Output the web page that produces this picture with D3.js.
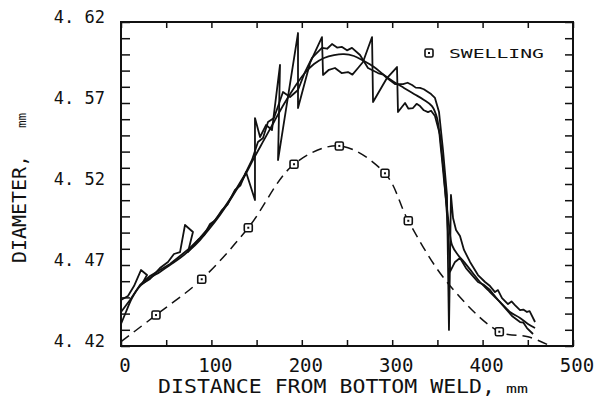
<!DOCTYPE html>
<html>
<head>
<meta charset="utf-8">
<script src="https://d3js.org/d3.v7.min.js"></script>
<style>
    body { margin: 0; background: #fff; }
    text { font-family: "DejaVu Sans Mono", monospace; fill: #111; }
</style>
</head>
<body>
<svg id="chart" width="598" height="398"></svg>
<script>
// distance from bottom weld (mm), diameter (mm) - three traces plus swelling curve
const traceA = [
    [0, 4.4484], [7.7, 4.4509], [14.4, 4.457], [22.1, 4.4669], [28.8, 4.4638], [23.2, 4.4583],
    [32.1, 4.4614], [43.1, 4.4681], [52, 4.4719], [58.6, 4.4768], [65.3, 4.478], [70.8, 4.4947],
    [79.6, 4.4904], [74.1, 4.478], [85.2, 4.4854], [92, 4.4885], [98.5, 4.4953], [104, 4.4975],
    [111.7, 4.5039], [118, 4.5075], [126.1, 4.5163], [132, 4.519], [138.3, 4.5274], [148.2, 4.5101],
    [148.2, 4.5607], [153.8, 4.549], [160.4, 4.5564], [167, 4.5533],
    [175.9, 4.5935], [173.7, 4.5348], [195.8, 4.6132], [195.8, 4.5669], [209.1, 4.5947], [222.3, 4.6107],
    [223.5, 4.5873], [230, 4.5905], [236.7, 4.5916], [244, 4.5885], [251.1, 4.5891], [256, 4.5875],
    [262.2, 4.5916], [267.7, 4.5953], [277.7, 4.6107],
    [278.8, 4.5706], [294.2, 4.5854], [305.3, 4.5922], [306.4, 4.5644], [314.2, 4.57], [318, 4.5665],
    [323, 4.5669], [327, 4.5695], [330.8, 4.5681], [335, 4.5655], [339.6, 4.5644], [343, 4.5652],
    [347.3, 4.562], [352.9, 4.5502], [357.3, 4.5256], [360.6, 4.5009],
    [362.8, 4.4793], [363.9, 4.4657], [369.5, 4.4719], [375, 4.4743], [381.6, 4.4681], [388.3, 4.4638],
    [394.9, 4.4595], [401.5, 4.4577], [408.2, 4.4546], [417, 4.4484], [424.8, 4.4435], [432.5, 4.4385],
    [441.4, 4.4348], [445, 4.4345], [449.1, 4.4311], [455.8, 4.4274]
];
const traceB = [
    [0, 4.441], [10, 4.4484], [21, 4.4577], [32.1, 4.4632], [43.1, 4.4669], [54.2, 4.4706],
    [65.3, 4.4756], [76.3, 4.4805], [87.4, 4.4867], [98.5, 4.4941], [109.5, 4.5015], [122.8, 4.5126],
    [136.1, 4.5249], [144.9, 4.5348], [151.5, 4.5459], [157.1, 4.5484], [162.6, 4.5583], [169.2, 4.5607],
    [179.2, 4.5768], [187, 4.5737], [195.8, 4.578], [203.5, 4.5891], [211.3, 4.5978], [222.3, 4.604],
    [228, 4.6035], [233.4, 4.6064], [239, 4.6042], [244.5, 4.6046], [250, 4.6025], [255.5, 4.604],
    [264.4, 4.5996], [273.2, 4.5916], [284.3, 4.5885], [290, 4.5875],
    [294.2, 4.5854], [303.1, 4.5817], [312, 4.5817], [317, 4.5825], [322, 4.5811], [326, 4.5795],
    [330.8, 4.5793], [335, 4.5785], [339.6, 4.5768], [343, 4.5755],
    [347.3, 4.5731], [351.8, 4.5644], [356.2, 4.541], [360.6, 4.5132], [362.8, 4.4299], [365, 4.5132],
    [367.3, 4.499], [370.6, 4.4916], [375, 4.4879], [379.4, 4.4793], [386.1, 4.4719], [394.9, 4.4638],
    [402.7, 4.4595], [408.2, 4.457], [413.7, 4.4533], [417, 4.4545], [421.5, 4.4496], [428.1, 4.4459],
    [432, 4.4475], [435.8, 4.4453], [441.4, 4.4422], [445, 4.4425], [449.1, 4.441], [452, 4.4415], [458, 4.4348]
];
const traceC = [
    [0, 4.4336], [5.5, 4.441], [12.2, 4.4496], [21, 4.457], [32.1, 4.462], [43.1, 4.4657],
    [54.2, 4.47], [65.3, 4.4743], [76.3, 4.4793], [87.4, 4.4854], [98.5, 4.4928], [109.5, 4.5009],
    [122.8, 4.512], [136.1, 4.5243], [147.1, 4.536], [158.2, 4.5472], [169.2, 4.5583], [180.3, 4.5694],
    [191.4, 4.5793], [202.4, 4.5879], [213.5, 4.5941], [224.6, 4.5978], [235.6, 4.5996], [246.7, 4.6002],
    [257.7, 4.599], [268.8, 4.5959], [279.9, 4.5922], [290.9, 4.5873], [302, 4.583], [313, 4.5793],
    [324.1, 4.5756], [335.2, 4.5719], [344, 4.5681], [349.6, 4.5607], [354, 4.541], [358.4, 4.5163],
    [362.8, 4.4947], [366.2, 4.4823], [372.8, 4.4762], [379.4, 4.4719], [388.3, 4.4657], [397.1, 4.4595],
    [408.2, 4.4533], [419.2, 4.4472], [430.3, 4.441], [441.4, 4.4373], [450.2, 4.4336], [458, 4.4311]
];
const swellCurve = [
    [0, 4.4227], [38.7, 4.4391], [89.3, 4.4612], [140.8, 4.493], [191.4, 4.5322], [241.5, 4.5435],
    [292, 4.5266], [317.8, 4.4973], [360.3, 4.4597], [418.5, 4.4288], [450.2, 4.4257], [474.6, 4.4202]
];
const swellPoints = [
    [38.7, 4.4391], [89.3, 4.4612], [140.8, 4.493], [191.4, 4.5322], [241.5, 4.5435],
    [292, 4.5266], [317.8, 4.4973], [418.5, 4.4288]
];
const xTickLabels = [0, 100, 200, 300, 400, 500];
const yTickValues = [4.42, 4.47, 4.52, 4.57, 4.62];
const yTickLabels = ["4. 42", "4. 47", "4. 52", "4. 57", "4. 62"];

const svg = d3.select("#chart");
const plot = {left: 121, right: 573, top: 22, bottom: 346};

const x = d3.scaleLinear().domain([0, 500]).range([plot.left, plot.right]);
const y = d3.scaleLinear().domain([4.42, 4.62]).range([plot.bottom, plot.top]);

const xTicks = d3.range(0, 501, 50);
const yTicks = d3.range(0, 21).map(i => 4.42 + i * 0.01);

// inward ticks on all four sides
function tickStyle(g) {
    g.select(".domain").remove();
    g.selectAll("line").attr("stroke", "#111").attr("stroke-width", 1.5);
}
svg.append("g").attr("transform", "translate(" + plot.left + ",0)")
    .call(d3.axisLeft(y).tickValues(yTicks).tickSize(-9).tickFormat(""))
    .call(tickStyle);
svg.append("g").attr("transform", "translate(" + plot.right + ",0)")
    .call(d3.axisRight(y).tickValues(yTicks).tickSize(-8).tickFormat(""))
    .call(tickStyle);
svg.append("g").attr("transform", "translate(0," + plot.top + ")")
    .call(d3.axisTop(x).tickValues(xTicks).tickSize(-6).tickFormat(""))
    .call(tickStyle);
svg.append("g").attr("transform", "translate(0," + plot.bottom + ")")
    .call(d3.axisBottom(x).tickValues(xTicks).tickSize(-6).tickFormat(""))
    .call(tickStyle);

svg.append("rect")
    .attr("x", plot.left).attr("y", plot.top)
    .attr("width", plot.right - plot.left).attr("height", plot.bottom - plot.top)
    .attr("fill", "none").attr("stroke", "#111").attr("stroke-width", 2);

// tick labels
svg.selectAll("text.ylab").data(yTickValues).join("text")
    .attr("class", "ylab")
    .attr("x", 105).attr("y", d => y(d) + 0.5)
    .attr("text-anchor", "end")
    .attr("font-size", 17)
    .text((d, i) => yTickLabels[i]);

svg.selectAll("text.xlab").data(xTickLabels).join("text")
    .attr("class", "xlab")
    .attr("x", d => x(d) + 4).attr("y", 372)
    .attr("text-anchor", "middle")
    .attr("font-size", 19)
    .text(d => d);

// axis titles
svg.append("text")
    .attr("x", 158).attr("y", 393)
    .attr("font-size", 20)
    .attr("textLength", 337).attr("lengthAdjust", "spacingAndGlyphs")
    .text("DISTANCE FROM BOTTOM WELD,");
svg.append("text")
    .attr("x", 506).attr("y", 393)
    .attr("font-size", 13)
    .attr("textLength", 22).attr("lengthAdjust", "spacingAndGlyphs")
    .text("mm");

svg.append("text")
    .attr("transform", "translate(26,263) rotate(-90)")
    .attr("font-size", 20)
    .attr("textLength", 108).attr("lengthAdjust", "spacingAndGlyphs")
    .text("DIAMETER,");
svg.append("text")
    .attr("transform", "translate(26,128) rotate(-90)")
    .attr("font-size", 12)
    .attr("textLength", 15).attr("lengthAdjust", "spacingAndGlyphs")
    .text("mm");

// traces
const line = d3.line().x(d => x(d[0])).y(d => y(d[1]));
const smooth = d3.line().x(d => x(d[0])).y(d => y(d[1])).curve(d3.curveCatmullRom.alpha(0.5));

[traceA, traceB].forEach(t => {
    svg.append("path").datum(t)
        .attr("fill", "none").attr("stroke", "#111").attr("stroke-width", 1.8)
        .attr("stroke-linejoin", "round")
        .attr("d", line);
});
svg.append("path").datum(traceC)
    .attr("fill", "none").attr("stroke", "#111").attr("stroke-width", 1.8)
    .attr("d", smooth);

svg.append("path").datum(swellCurve)
    .attr("fill", "none").attr("stroke", "#111").attr("stroke-width", 1.5)
    .attr("stroke-dasharray", "10,6")
    .attr("d", smooth);

function marker(g, cx, cy) {
    g.append("rect").attr("x", cx - 4).attr("y", cy - 4).attr("width", 8).attr("height", 8)
        .attr("rx", 1.5).attr("fill", "#fff").attr("stroke", "#111").attr("stroke-width", 1.6);
    g.append("rect").attr("x", cx - 1).attr("y", cy - 1).attr("width", 2).attr("height", 2)
        .attr("fill", "#111");
}
const markers = svg.append("g");
swellPoints.forEach(p => marker(markers, x(p[0]), y(p[1])));

// legend
marker(svg.append("g"), 429, 53);
svg.append("text")
    .attr("x", 449).attr("y", 58)
    .attr("font-size", 13)
    .attr("textLength", 95).attr("lengthAdjust", "spacingAndGlyphs")
    .text("SWELLING");
</script>
</body>
</html>
